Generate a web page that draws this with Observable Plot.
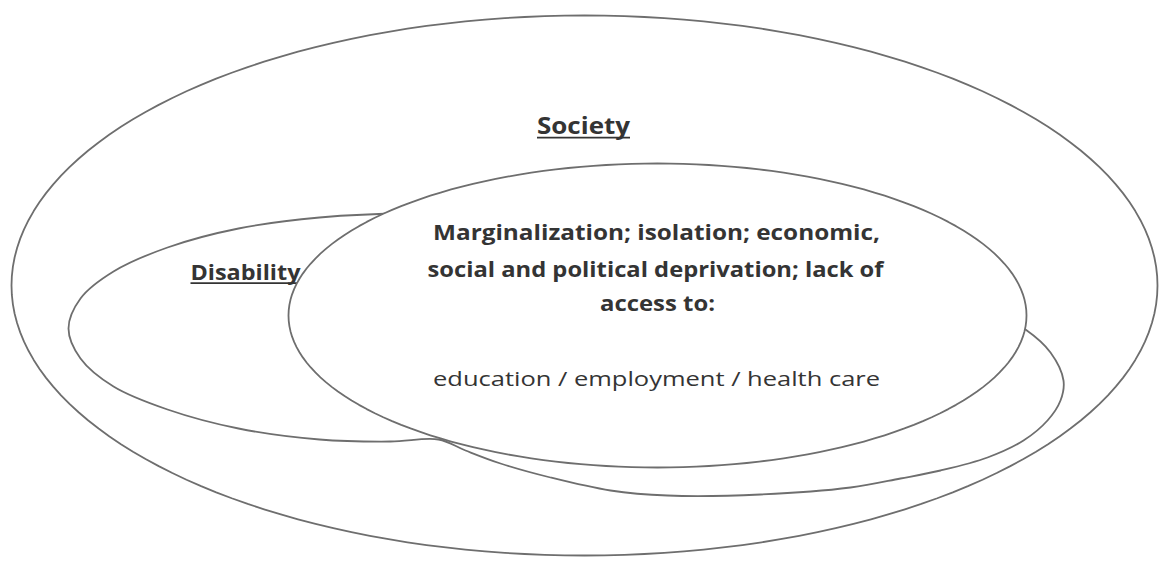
<!DOCTYPE html>
<html>
<head>
<meta charset="utf-8">
<script src="https://cdn.jsdelivr.net/npm/d3@7"></script>
<script src="https://cdn.jsdelivr.net/npm/@observablehq/plot@0.6"></script>
<style>
  html, body { margin: 0; padding: 0; background: #ffffff; }
  #chart svg { display: block; }
</style>
</head>
<body>
<div id="chart"></div>
<script>
// ---- Data (pixel-space coordinates) ----
// Ellipses: Society (outer) and the core ellipse (inner, filled white)
const ellipseNames = ["Society", "Core"];
const ellipseCx = [584, 657];
const ellipseCy = [285, 315];
const ellipseRx = [573, 369];
const ellipseRy = [270, 152];

// Disability outline (traced points, closed smooth curve)
const disabilityX = [68, 80, 113, 167, 238, 319, 407, 466, 600, 760, 900, 985, 1025, 1050, 1063, 1060, 1047, 1023, 987, 940, 900, 850, 760, 667, 610, 550, 500, 465, 438, 390, 319, 238, 167, 113, 80];
const disabilityY = [328, 298, 271, 247, 228, 217, 213, 215, 225, 248, 280, 308, 329, 352, 380, 400, 420, 440, 457, 470, 478, 487, 494, 495, 490, 477, 463, 450, 439, 441, 439, 428, 409, 386, 358];

// Text labels
const headingText = ["Society", "Disability"];
const headingX = [583, 245];
const headingY = [133, 279];

const boldLines = ["Marginalization; isolation; economic,", "social and political deprivation; lack of", "access to:"];
const boldX = [656, 655, 657];
const boldY = [239, 276, 310];

const plainLines = ["education / employment / health care"];
const plainX = [656];
const plainY = [385];

// ---- Layout constants (measured text extents in the picture) ----
const textWidths = {
  "Society": 93,
  "Disability": 110,
  "Marginalization; isolation; economic,": 447,
  "social and political deprivation; lack of": 456,
  "access to:": 115,
  "education / employment / health care": 447
};

// ---- Build tables ----
function ellipseOutline(i) {
  return d3.range(0, 360, 2).map(a => {
    const t = a * Math.PI / 180;
    return {name: ellipseNames[i], x: ellipseCx[i] + ellipseRx[i] * Math.cos(t), y: ellipseCy[i] + ellipseRy[i] * Math.sin(t)};
  });
}
const society = ellipseOutline(0);
const core = ellipseOutline(1);
const disability = disabilityX.map((x, i) => ({x, y: disabilityY[i]}));

const heading1 = [{t: headingText[0], x: headingX[0], y: headingY[0]}];
const heading2 = [{t: headingText[1], x: headingX[1], y: headingY[1]}];
const bold = boldLines.map((t, i) => ({t, x: boldX[i], y: boldY[i]}));
const plain = plainLines.map((t, i) => ({t, x: plainX[i], y: plainY[i]}));

const lineColor = "#6e6e6e";
const textColor = "#343434";
const font = "'Open Sans', Lato, sans-serif";

const shapeStyle = {x: "x", y: "y", fill: "white", stroke: lineColor, strokeWidth: 1.8};
const textStyle = {x: "x", y: "y", text: "t", fill: textColor, lineAnchor: "bottom", textAnchor: "middle"};

const chart = Plot.plot({
  width: 1164,
  height: 565,
  margin: 0,
  style: {background: "white", fontFamily: font},
  x: {domain: [0, 1164], range: [0, 1164], axis: null},
  y: {domain: [0, 565], range: [0, 565], axis: null},
  marks: [
    Plot.line(society, {...shapeStyle, curve: "linear-closed"}),
    Plot.text(heading1, {...textStyle, fontSize: 24, fontWeight: "bold"}),
    Plot.line(disability, {...shapeStyle, curve: "catmull-rom-closed"}),
    Plot.text(heading2, {...textStyle, fontSize: 21, fontWeight: "bold"}),
    Plot.line(core, {...shapeStyle, curve: "linear-closed"}),
    Plot.text(bold, {...textStyle, fontSize: 20.5, fontWeight: "bold"}),
    Plot.text(plain, {...textStyle, fontSize: 20.5})
  ]
});

document.getElementById("chart").appendChild(chart);

// Fit text to the measured widths and underline the headings
d3.select(chart).selectAll("text").each(function() {
  const label = this.textContent;
  const w = textWidths[label];
  if (w) {
    this.setAttribute("textLength", w);
    this.setAttribute("lengthAdjust", "spacingAndGlyphs");
  }
  if (headingText.includes(label)) {
    const fs = parseFloat(getComputedStyle(this).fontSize) || 22;
    const width = w || this.getComputedTextLength();
    const x0 = +(this.getAttribute("x") || 0);
    const y0 = +(this.getAttribute("y") || 0) + fs * 0.17;
    const line = document.createElementNS("http://www.w3.org/2000/svg", "line");
    const t = this.getAttribute("transform");
    if (t) line.setAttribute("transform", t);
    line.setAttribute("x1", x0 - width / 2);
    line.setAttribute("x2", x0 + width / 2);
    line.setAttribute("y1", y0);
    line.setAttribute("y2", y0);
    line.setAttribute("stroke", textColor);
    line.setAttribute("stroke-width", 1.8);
    this.parentNode.appendChild(line);
  }
});
</script>
</body>
</html>
